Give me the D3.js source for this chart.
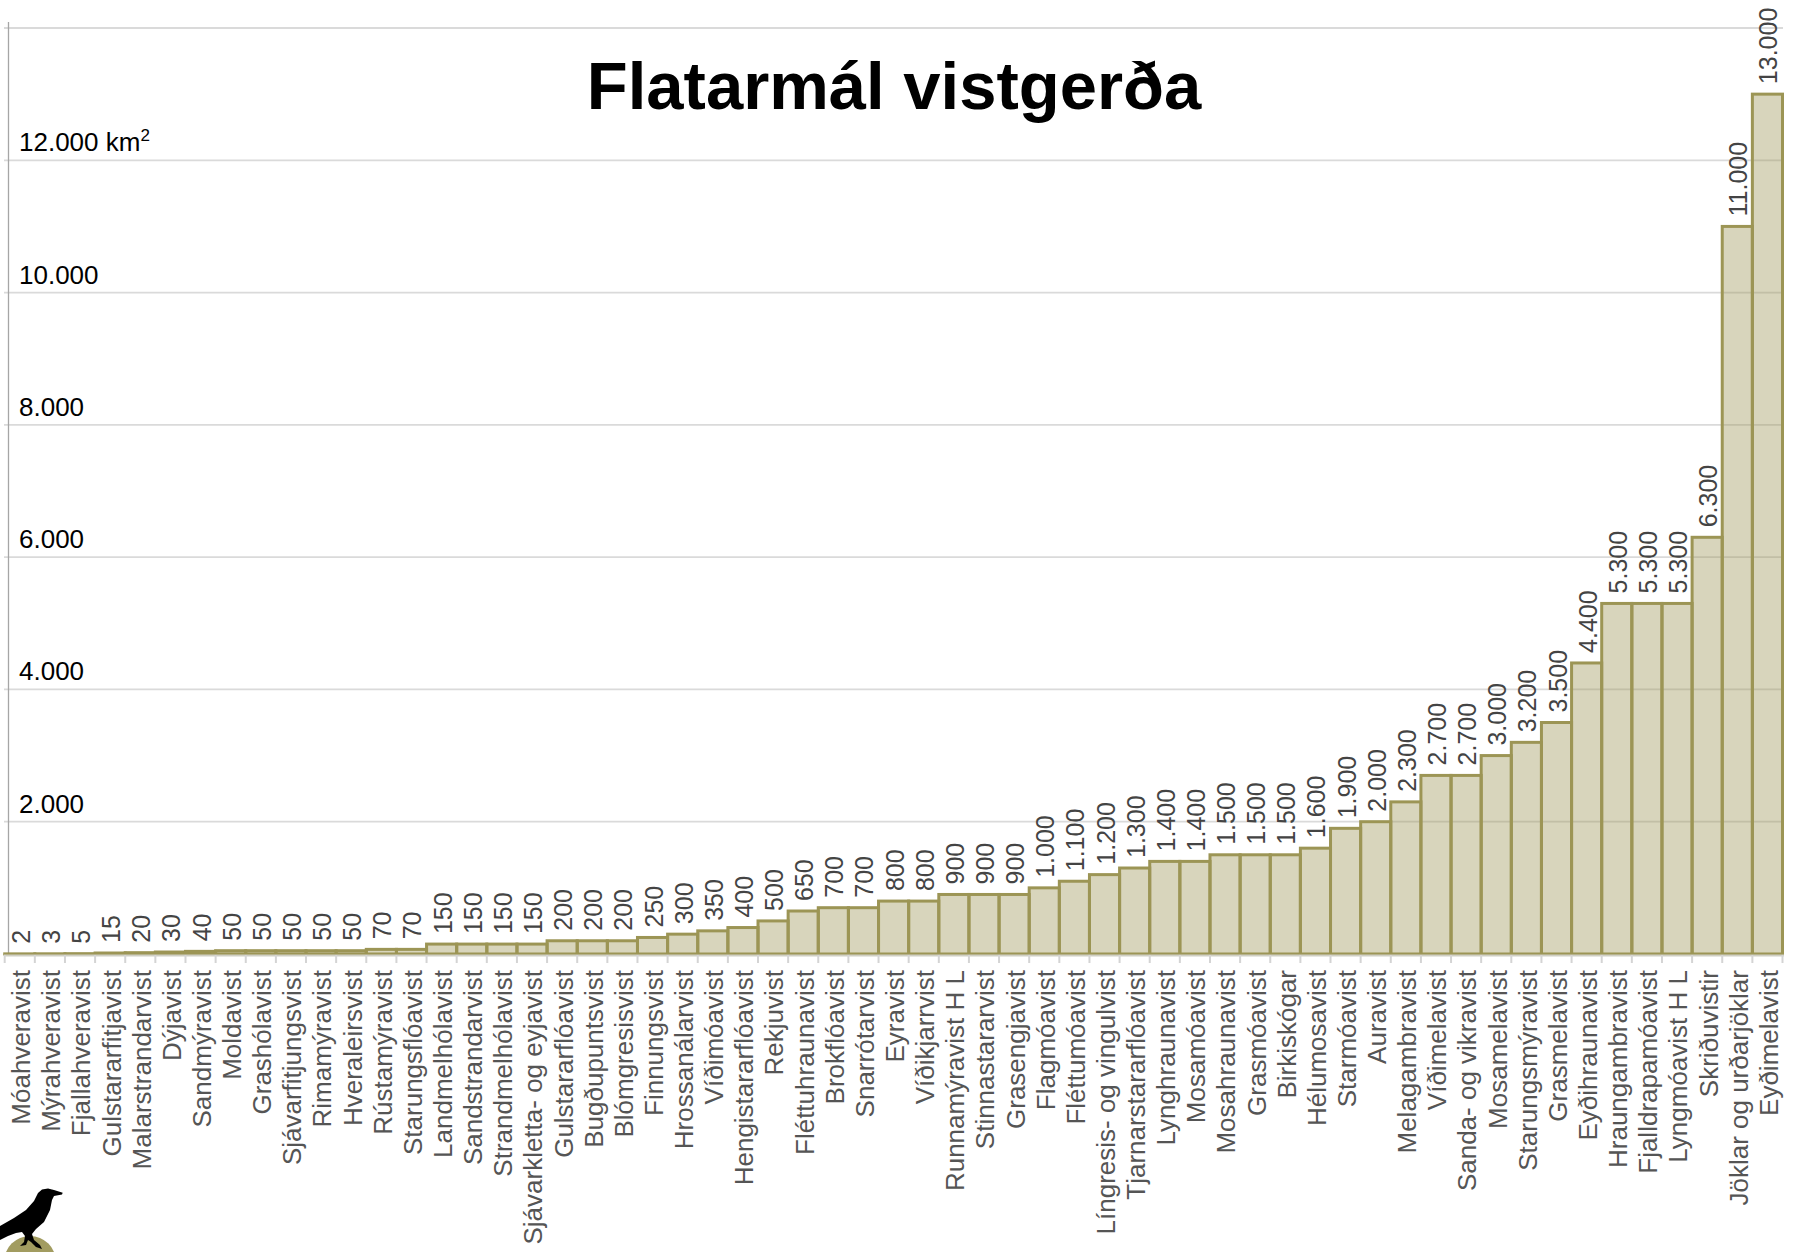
<!DOCTYPE html>
<html lang="is">
<head>
<meta charset="utf-8">
<title>Flatarmál vistgerða</title>
<script src="https://d3js.org/d3.v7.min.js"></script>
<style>
  body { margin: 0; background: #fff; font-family: "Liberation Sans", Arial, sans-serif; }
  svg { display: block; }
</style>
</head>
<body>
<div id="chart"></div>
<script>
// vistgerðir, raðað eftir flatarmáli (km2)
const categories = [
  "Móahveravist", "Mýrahveravist", "Fjallahveravist", "Gulstararfitjavist", "Malarstrandarvist",
  "Dýjavist", "Sandmýravist", "Moldavist", "Grashólavist", "Sjávarfitjungsvist",
  "Rimamýravist", "Hveraleirsvist", "Rústamýravist", "Starungsflóavist", "Landmelhólavist",
  "Sandstrandarvist", "Strandmelhólavist", "Sjávarkletta- og eyjavist", "Gulstararflóavist", "Bugðupuntsvist",
  "Blómgresisvist", "Finnungsvist", "Hrossanálarvist", "Víðimóavist", "Hengistararflóavist",
  "Rekjuvist", "Fléttuhraunavist", "Brokflóavist", "Snarrótarvist", "Eyravist",
  "Víðikjarrvist", "Runnamýravist H L", "Stinnastararvist", "Grasengjavist", "Flagmóavist",
  "Fléttumóavist", "Língresis- og vingulvist", "Tjarnarstararflóavist", "Lynghraunavist", "Mosamóavist",
  "Mosahraunavist", "Grasmóavist", "Birkiskógar", "Hélumosavist", "Starmóavist",
  "Auravist", "Melagambravist", "Víðimelavist", "Sanda- og vikravist", "Mosamelavist",
  "Starungsmýravist", "Grasmelavist", "Eyðihraunavist", "Hraungambravist", "Fjalldrapamóavist",
  "Lyngmóavist H L", "Skriðuvistir", "Jöklar og urðarjöklar", "Eyðimelavist"
];
const values = [
  2, 3, 5, 15, 20,
  30, 40, 50, 50, 50,
  50, 50, 70, 70, 150,
  150, 150, 150, 200, 200,
  200, 250, 300, 350, 400,
  500, 650, 700, 700, 800,
  800, 900, 900, 900, 1000,
  1100, 1200, 1300, 1400, 1400,
  1500, 1500, 1500, 1600, 1900,
  2000, 2300, 2700, 2700, 3000,
  3200, 3500, 4400, 5300, 5300,
  5300, 6300, 11000, 13000
];
const yTicks = [2000, 4000, 6000, 8000, 10000, 12000, 14000];

const data = categories.map((c, i) => ({ name: c, value: values[i] }));

const W = 1795, H = 1252;
const fmt = v => d3.format(",")(v).replace(/,/g, ".");

const svg = d3.select("#chart").append("svg")
  .attr("width", W)
  .attr("height", H);

const x = d3.scaleBand()
  .domain(categories)
  .range([4.7, 1782.5])
  .padding(0);

const y = d3.scaleLinear()
  .domain([0, 14000])
  .range([954, 28]);

// gridlines
svg.append("g")
  .selectAll("line")
  .data(yTicks)
  .join("line")
  .attr("x1", 4)
  .attr("x2", 1783)
  .attr("y1", d => y(d))
  .attr("y2", d => y(d))
  .attr("stroke", "#dadada")
  .attr("stroke-width", 1.8);

// y axis line
svg.append("line")
  .attr("x1", 8.5).attr("x2", 8.5)
  .attr("y1", 22).attr("y2", y(0))
  .attr("stroke", "#a6a6a6")
  .attr("stroke-width", 1.3);

// y labels
const yl = svg.append("g")
  .selectAll("text")
  .data(yTicks.filter(d => d < 14000))
  .join("text")
  .attr("x", 19)
  .attr("y", d => y(d) - 9)
  .attr("font-size", 26)
  .attr("fill", "#000")
  .text(d => fmt(d));
yl.filter(d => d === 12000)
  .append("tspan").text(" km");
yl.filter(d => d === 12000)
  .append("tspan").attr("font-size", 17).attr("dy", -10).text("2");

// bars
svg.append("g")
  .selectAll("rect")
  .data(data)
  .join("rect")
  .attr("x", d => x(d.name))
  .attr("y", d => y(d.value))
  .attr("width", x.bandwidth())
  .attr("height", d => y(0) - y(d.value))
  .attr("fill", "#9e9757")
  .attr("fill-opacity", 0.4)
  .attr("stroke", "#9c9555")
  .attr("stroke-width", 3);

// x axis line + boundary ticks
svg.append("line")
  .attr("x1", 4).attr("x2", 1784)
  .attr("y1", y(0) + 1.5).attr("y2", y(0) + 1.5)
  .attr("stroke", "#cfcfc4")
  .attr("stroke-width", 2);

const edges = categories.map(c => x(c)).concat([x.range()[1]]);
svg.append("g")
  .selectAll("line")
  .data(edges)
  .join("line")
  .attr("x1", d => d).attr("x2", d => d)
  .attr("y1", y(0) + 1).attr("y2", y(0) + 9)
  .attr("stroke", "#d4d4d4")
  .attr("stroke-width", 2);

// category labels
svg.append("g")
  .selectAll("text")
  .data(data)
  .join("text")
  .attr("transform", d => `translate(${x(d.name) + x.bandwidth() / 2 + 1},970) rotate(-90)`)
  .attr("text-anchor", "end")
  .attr("dy", "0.36em")
  .attr("font-size", 26)
  .attr("fill", "#555")
  .text(d => d.name);

// value labels
svg.append("g")
  .selectAll("text")
  .data(data)
  .join("text")
  .attr("transform", d => `translate(${x(d.name) + x.bandwidth() / 2 + 1},${y(d.value) - 10}) rotate(-90)`)
  .attr("text-anchor", "start")
  .attr("dy", "0.36em")
  .attr("font-size", 25)
  .attr("fill", "#444")
  .text(d => fmt(d.value));

// title
svg.append("text")
  .attr("x", 894)
  .attr("y", 109)
  .attr("text-anchor", "middle")
  .attr("font-size", 67)
  .attr("font-weight", "bold")
  .attr("fill", "#000")
  .text("Flatarmál vistgerða");

// hrafn, merki neðst til vinstri
const logo = svg.append("g").attr("transform", "translate(0,1150)");
logo.append("circle")
  .attr("cx", 30).attr("cy", 112).attr("r", 26)
  .attr("fill", "#a29c60");
logo.append("path")
  .attr("fill", "#000")
  .attr("d", "M62.7,42.7 L54,40 L48,38.5 L42,39.5 L38,43 L34,51 L26,60 L14,68 L0,76 L0,90 L8,86 L16,83 L22,82 L25,86 L24,92 L20,96 L26,95 L28,90 L31,92 L36,97 L42,99 L40,95 L34,90 L32,84 L36,79 L44,72 L50,60 L52,50 L54,46 L62,44.5 Z");
</script>
</body>
</html>
